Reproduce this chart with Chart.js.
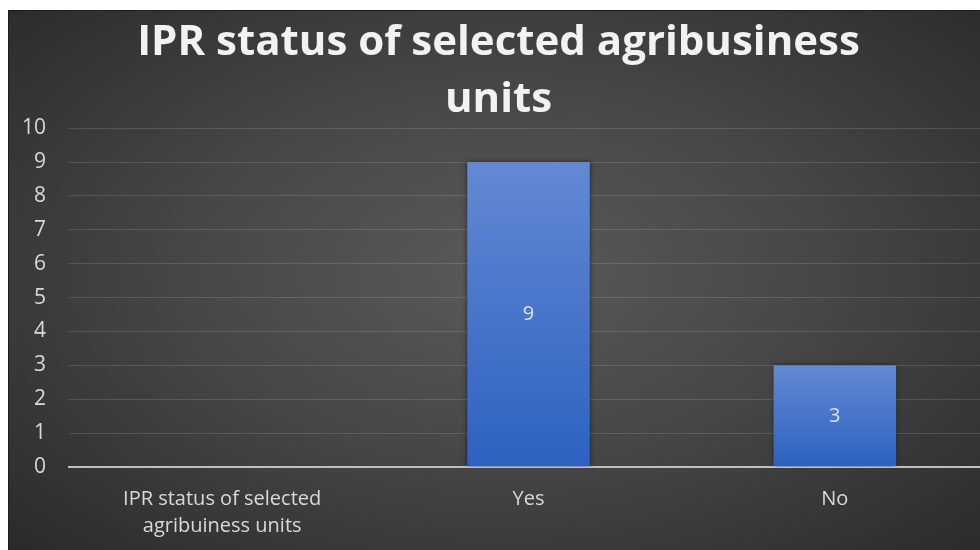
<!DOCTYPE html>
<html>
<head>
<meta charset="utf-8">
<script src="https://cdn.jsdelivr.net/npm/chart.js@4"></script>
<style>
  html, body { margin: 0; padding: 0; background: #fff; overflow: hidden; width: 980px; height: 550px; }
  #wrap {
    position: absolute; left: 8px; top: 10px; width: 990px; height: 540px;
    border-left: 1px solid #1c1c1c; border-top: 1px solid #1c1c1c;
    background: radial-gradient(ellipse 70% 75% at 50% 48%, #5a5a5a 0%, #474747 45%, #2a2a2a 100%);
  }
  #chart { position: absolute; left: 0; top: 0; }
</style>
</head>
<body>
<div id="wrap"><canvas id="chart" width="979" height="539"></canvas></div>
<script>
const titleLines = ["IPR status of selected agribusiness", "units"];
const categories = [["IPR status of selected", "agribuiness units"], "Yes", "No"];
const counts = [null, 9, 3];
const yTicks = { min: 0, max: 10, step: 1 };

const labelColor = "#d9d9d9";

// light-to-dark blue fill for each bar, from its top down to the baseline
function barFill(ctx) {
  const chart = ctx.chart;
  const y = chart.scales && chart.scales.y;
  const v = ctx.raw;
  if (!y || v == null) return "#4472c4";
  const top = y.getPixelForValue(v);
  const bottom = y.getPixelForValue(0);
  const g = chart.ctx.createLinearGradient(0, top, 0, bottom);
  g.addColorStop(0, "#6389d3");
  g.addColorStop(1, "#2d61c1");
  return g;
}

const barShadow = {
  id: "barShadow",
  beforeDatasetsDraw(chart) {
    const c = chart.ctx;
    c.save();
    c.shadowColor = "rgba(0,0,0,0.55)";
    c.shadowBlur = 5;
  },
  afterDatasetsDraw(chart) {
    chart.ctx.restore();
  }
};

// value printed in the middle of each bar
const valueLabels = {
  id: "valueLabels",
  afterDatasetsDraw(chart) {
    const c = chart.ctx;
    const meta = chart.getDatasetMeta(0);
    const y = chart.scales.y;
    c.save();
    c.font = "20px 'Open Sans'";
    c.fillStyle = "#dde5f4";
    c.textAlign = "center";
    c.textBaseline = "middle";
    meta.data.forEach((bar, i) => {
      const v = counts[i];
      if (v == null) return;
      const mid = (y.getPixelForValue(v) + y.getPixelForValue(0)) / 2;
      c.fillText(String(v), bar.x, mid);
    });
    c.restore();
  }
};

new Chart(document.getElementById("chart"), {
  type: "bar",
  data: {
    labels: categories,
    datasets: [{
      data: counts,
      backgroundColor: barFill,
      borderWidth: 0,
      categoryPercentage: 1,
      barPercentage: 0.4
    }]
  },
  options: {
    responsive: false,
    animation: false,
    layout: { padding: 0 },
    plugins: {
      legend: { display: false },
      tooltip: { enabled: false },
      title: {
        display: true,
        text: titleLines,
        color: "#f2f2f2",
        font: { family: "'Open Sans'", weight: "bold", size: 42, lineHeight: 1.36 },
        padding: { top: 3, bottom: 0 }
      }
    },
    scales: {
      x: {
        grid: { display: false, drawTicks: false },
        border: { display: true, color: "#bfbfbf", width: 2 },
        ticks: {
          color: labelColor,
          font: { family: "'Open Sans'", size: 20, lineHeight: 1.35 },
          padding: 19,
          maxRotation: 0,
          autoSkip: false
        },
        afterFit(scale) { scale.height = 83; }
      },
      y: {
        min: yTicks.min,
        max: yTicks.max,
        grid: {
          drawTicks: false,
          color: ctx => ctx.tick && ctx.tick.value === 0 ? "#bfbfbf" : "rgba(255,255,255,0.13)",
          lineWidth: ctx => ctx.tick && ctx.tick.value === 0 ? 2 : 1
        },
        border: { display: false },
        ticks: {
          stepSize: yTicks.step,
          color: labelColor,
          font: { family: "'Open Sans'", size: 21 },
          padding: 23
        },
        afterFit(scale) { scale.width = 60; }
      }
    }
  },
  plugins: [barShadow, valueLabels]
});
</script>
</body>
</html>
